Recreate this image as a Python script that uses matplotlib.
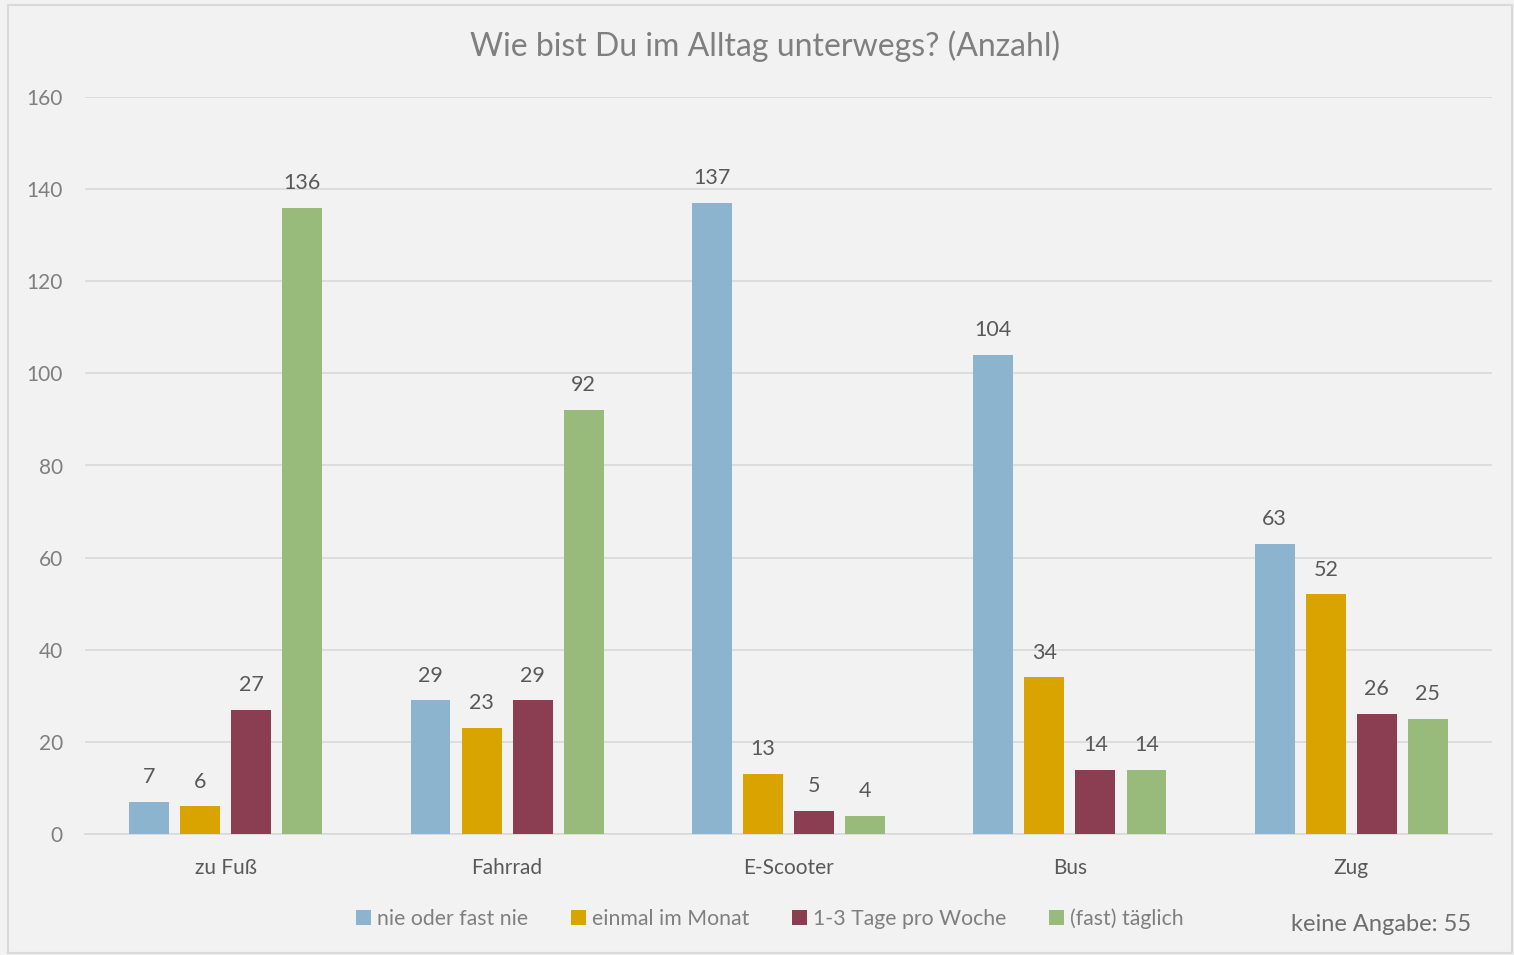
import numpy as np
import matplotlib.pyplot as plt
from matplotlib.patches import Rectangle, Patch

plt.rcParams['font.family'] = ['Lato', 'DejaVu Sans']

# Daten
kategorien = ['zu Fuß', 'Fahrrad', 'E-Scooter', 'Bus', 'Zug']
serien = ['nie oder fast nie', 'einmal im Monat', '1-3 Tage pro Woche', '(fast) täglich']
nie = [7, 29, 137, 104, 63]
monat = [6, 23, 13, 34, 52]
woche = [27, 29, 5, 14, 26]
taeglich = [136, 92, 4, 14, 25]
farben = ['#8DB4CF', '#D9A300', '#8B3D52', '#98BB7C']
yticks = [0, 20, 40, 60, 80, 100, 120, 140, 160]

grau = '#7F7F7F'
dunkel = '#595959'
bg = '#F2F2F2'

fig = plt.figure(figsize=(15.14, 9.55), dpi=100, facecolor=bg)
ax = fig.add_axes([85/1514, 121/955, 1407/1514, 737/955])
ax.set_facecolor(bg)

x = np.arange(len(kategorien))
step = 0.1815
breite = 0.142
for i, (werte, farbe) in enumerate(zip([nie, monat, woche, taeglich], farben)):
    pos = x + (i - 1.5) * step
    ax.bar(pos, werte, width=breite, color=farbe, zorder=3)
    for xp, v in zip(pos, werte):
        ax.text(xp, v + 3.2, str(v), ha='center', va='bottom', fontsize=15.5, color=dunkel)

ax.set_xlim(-0.5, 4.5)
ax.set_ylim(0, 160)
ax.set_yticks(yticks)
ax.set_xticks(x)
ax.set_xticklabels(kategorien)
ax.tick_params(axis='both', length=0, labelsize=15, labelcolor=grau)
ax.tick_params(axis='x', labelcolor=dunkel)
ax.tick_params(axis='y', pad=16)
ax.tick_params(axis='x', pad=17)
ax.grid(axis='y', color='#D9D9D9', linewidth=1.2, zorder=0)
for s in ['top', 'right', 'left']:
    ax.spines[s].set_visible(False)
ax.spines['bottom'].set_color('#D9D9D9')
ax.spines['bottom'].set_linewidth(1.2)

fig.text(765/1514, 1 - 46/955, 'Wie bist Du im Alltag unterwegs? (Anzahl)',
         ha='center', va='center', fontsize=23, color=grau)

handles = [Patch(facecolor=f, edgecolor='none') for f in farben]
fig.legend(handles, serien, loc='center', bbox_to_anchor=(770/1514, 1 - 919/955),
           ncol=4, frameon=False, fontsize=15.3, labelcolor=grau,
           handlelength=0.7, handleheight=0.7, handletextpad=0.3, columnspacing=2.0)

fig.text(1471/1514, 1 - 924/955, 'keine Angabe: 55', ha='right', va='center',
         fontsize=17, color='#6E6E6E')

fig.patches.append(Rectangle((8/1514, 2/955), 1504/1514, 948/955, transform=fig.transFigure,
                             fill=False, edgecolor='#D9D9D9', linewidth=1.5))

fig.savefig('out.png', dpi=100, facecolor=bg)
